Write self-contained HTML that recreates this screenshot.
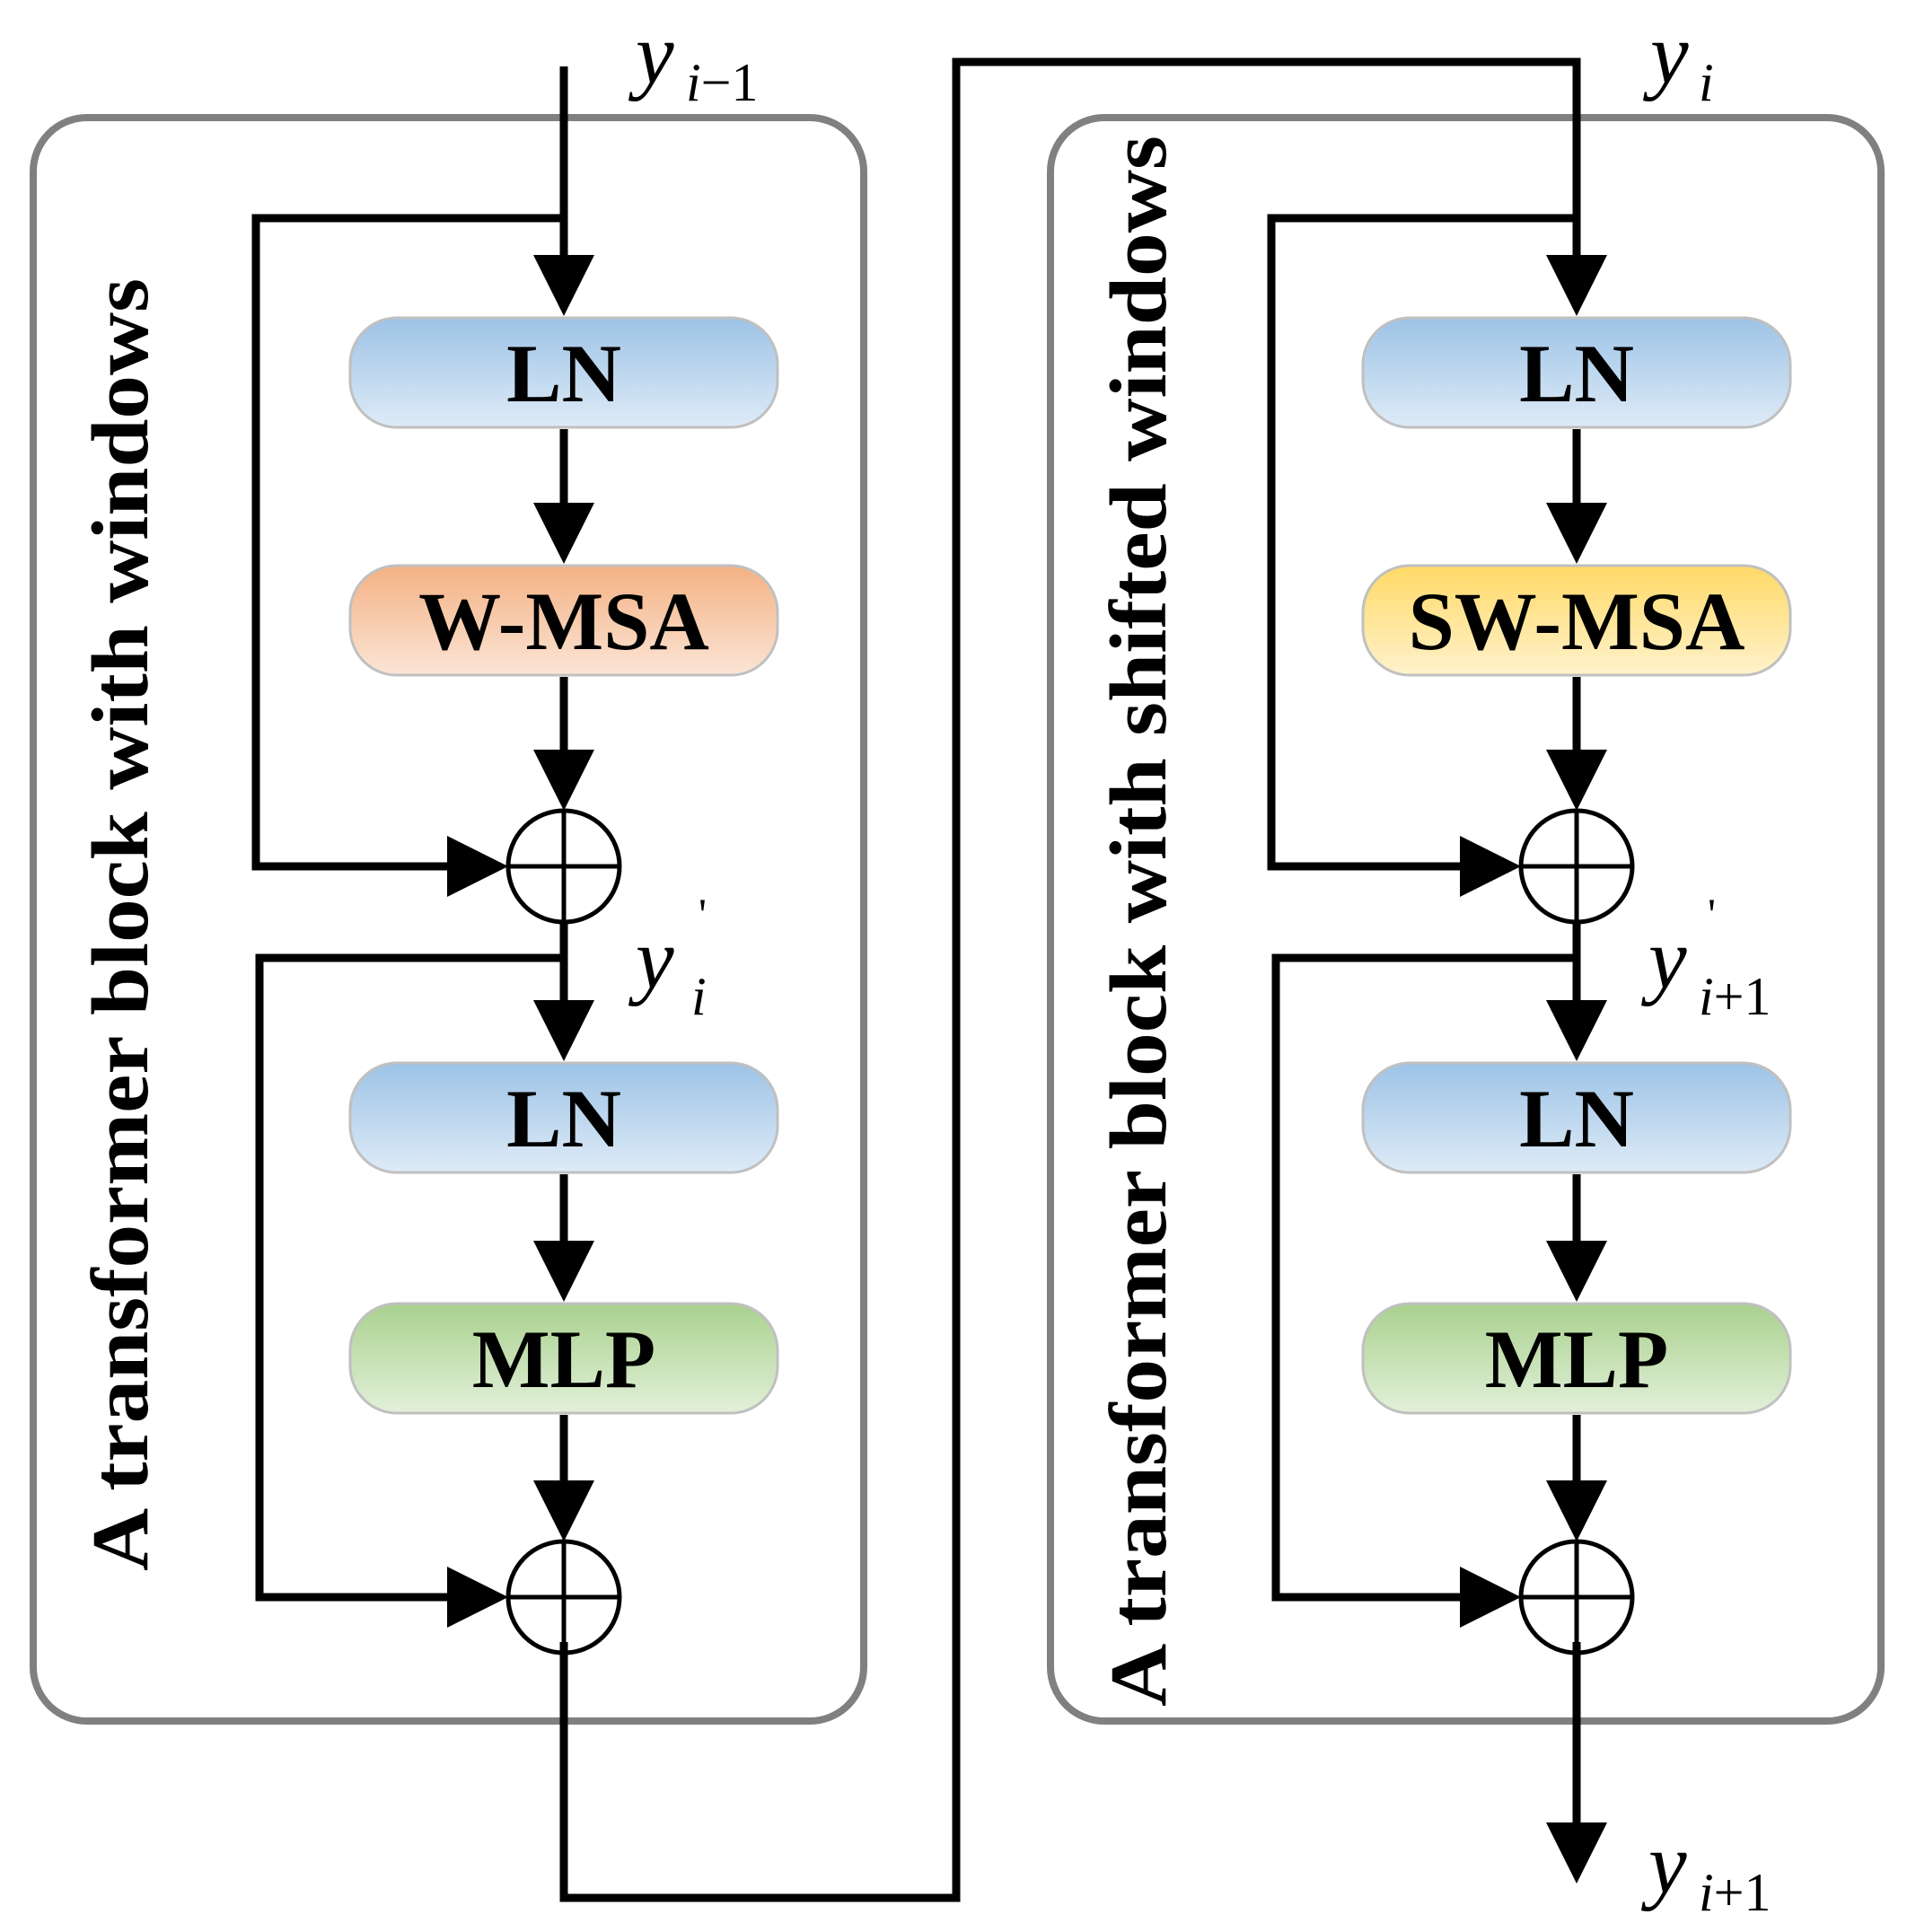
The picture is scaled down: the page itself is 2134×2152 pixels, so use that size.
<!DOCTYPE html>
<html><head><meta charset="utf-8"><style>html,body{margin:0;padding:0;background:#fff}svg{display:block}
.t{font-family:"Liberation Serif","Times New Roman",Times,serif}</style></head>
<body>
<svg width="2134" height="2152" viewBox="0 0 2134 2152" xmlns="http://www.w3.org/2000/svg">
<defs>
<linearGradient id="gb" x1="0" y1="0" x2="0" y2="1"><stop offset="0" stop-color="#9dc3e6"/><stop offset="1" stop-color="#deebf7"/></linearGradient>
<linearGradient id="go" x1="0" y1="0" x2="0" y2="1"><stop offset="0" stop-color="#f4b183"/><stop offset="1" stop-color="#fbe5d6"/></linearGradient>
<linearGradient id="gy" x1="0" y1="0" x2="0" y2="1"><stop offset="0" stop-color="#ffd966"/><stop offset="1" stop-color="#fff2cc"/></linearGradient>
<linearGradient id="gg" x1="0" y1="0" x2="0" y2="1"><stop offset="0" stop-color="#a9d18e"/><stop offset="1" stop-color="#e2f0d9"/></linearGradient>
</defs>
<g fill="none" stroke="#808080" stroke-width="8">
<rect x="37" y="131" width="925" height="1786" rx="60"/>
<rect x="1170" y="131" width="925" height="1786" rx="60"/>
</g>
<g stroke="#c0c0c0" stroke-width="3">
<rect x="390" y="354" width="476" height="122" rx="52" fill="url(#gb)"/>
<rect x="390" y="630" width="476" height="122" rx="52" fill="url(#go)"/>
<rect x="390" y="1184" width="476" height="122" rx="52" fill="url(#gb)"/>
<rect x="390" y="1452" width="476" height="122" rx="52" fill="url(#gg)"/>
<rect x="1518" y="354" width="476" height="122" rx="52" fill="url(#gb)"/>
<rect x="1518" y="630" width="476" height="122" rx="52" fill="url(#gy)"/>
<rect x="1518" y="1184" width="476" height="122" rx="52" fill="url(#gb)"/>
<rect x="1518" y="1452" width="476" height="122" rx="52" fill="url(#gg)"/>
</g>
<g class="t" font-weight="bold" font-size="92" text-anchor="middle" fill="#000">
<text x="628" y="447">LN</text>
<text x="628" y="723">W-MSA</text>
<text x="628" y="1277">LN</text>
<text x="628" y="1545">MLP</text>
<text x="1756" y="447">LN</text>
<text x="1756" y="723">SW-MSA</text>
<text x="1756" y="1277">LN</text>
<text x="1756" y="1545">MLP</text>
</g>
<g fill="none" stroke="#000" stroke-width="9" stroke-linejoin="miter">
<path d="M628 74V290"/>
<path d="M628 243H285V965H500"/>
<path d="M628 478V560"/>
<path d="M628 754V840"/>
<path d="M628 1028V1120"/>
<path d="M628 1067H289V1779H500"/>
<path d="M628 1308V1390"/>
<path d="M628 1576V1705"/>
<path d="M628 1829V2114H1065V69H1756V290"/>
<path d="M1756 243H1416V965H1630"/>
<path d="M1756 478V560"/>
<path d="M1756 754V840"/>
<path d="M1756 1028V1120"/>
<path d="M1756 1067H1421V1779H1630"/>
<path d="M1756 1308V1390"/>
<path d="M1756 1576V1705"/>
<path d="M1756 1829V2040"/>
</g>
<g fill="none" stroke="#000" stroke-width="5">
<circle cx="628" cy="965" r="62"/><path d="M566 965H690M628 903V1027"/>
<circle cx="628" cy="1779" r="62"/><path d="M566 1779H690M628 1717V1841"/>
<circle cx="1756" cy="965" r="62"/><path d="M1694 965H1818M1756 903V1027"/>
<circle cx="1756" cy="1779" r="62"/><path d="M1694 1779H1818M1756 1717V1841"/>
</g>
<g fill="#000">
<path d="M594 284H662L628 352Z"/>
<path d="M594 560H662L628 628Z"/>
<path d="M594 835H662L628 903Z"/>
<path d="M594 1114H662L628 1182Z"/>
<path d="M594 1382H662L628 1450Z"/>
<path d="M594 1649H662L628 1717Z"/>
<path d="M498 931V999L566 965Z"/>
<path d="M498 1745V1813L566 1779Z"/>
<path d="M1722 284H1790L1756 352Z"/>
<path d="M1722 560H1790L1756 628Z"/>
<path d="M1722 835H1790L1756 903Z"/>
<path d="M1722 1114H1790L1756 1182Z"/>
<path d="M1722 1382H1790L1756 1450Z"/>
<path d="M1722 1649H1790L1756 1717Z"/>
<path d="M1626 931V999L1694 965Z"/>
<path d="M1626 1745V1813L1694 1779Z"/>
<path d="M1722 2030H1790L1756 2098Z"/>
</g>
<g class="t" font-weight="bold" font-size="90" fill="#000" text-anchor="middle">
<text transform="translate(164 1030) rotate(-90)" textLength="1440" lengthAdjust="spacingAndGlyphs">A transformer block with windows</text>
<text transform="translate(1298 1026) rotate(-90)" textLength="1750" lengthAdjust="spacingAndGlyphs">A transformer block with shifted windows</text>
</g>
<g class="t" font-style="italic" fill="#000">
<text x="708" y="92" font-size="96">y</text><text x="764" y="112" font-size="60">i<tspan font-style="normal">−1</tspan></text>
<text x="1838" y="92" font-size="96">y</text><text x="1892" y="112" font-size="60">i</text>
<text x="708" y="1100" font-size="96">y</text><text x="770" y="1130" font-size="60">i</text><text x="778" y="1035" font-size="50" font-style="normal">'</text>
<text x="1836" y="1100" font-size="96">y</text><text x="1892" y="1130" font-size="60">i<tspan font-style="normal">+1</tspan></text><text x="1902" y="1035" font-size="50" font-style="normal">'</text>
<text x="1836" y="2108" font-size="96">y</text><text x="1892" y="2128" font-size="60">i<tspan font-style="normal">+1</tspan></text>
</g>
</svg>
</body></html>
